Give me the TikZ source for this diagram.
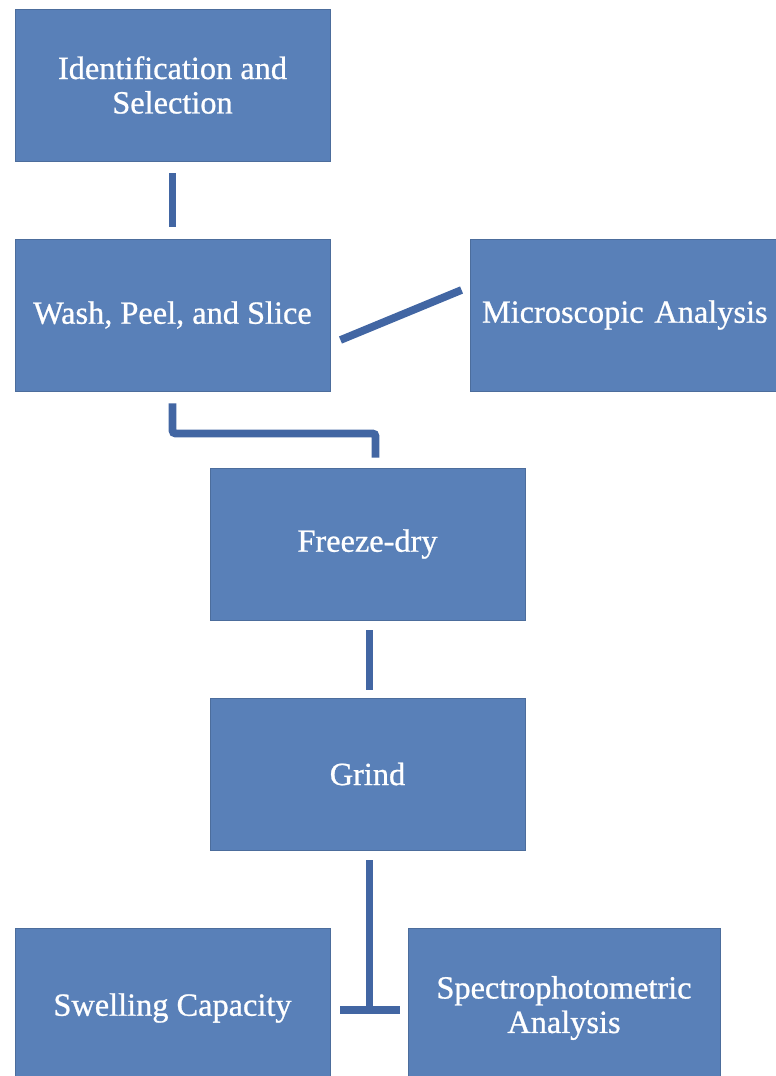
\documentclass[tikz,border=0pt]{standalone}
\usepackage{fontspec}
\setmainfont[FakeBold=0.8]{Liberation Serif}
\usetikzlibrary{calc}
\definecolor{boxblue}{RGB}{89,128,184}
\definecolor{lineblue}{RGB}{66,102,163}
\tikzset{
	box/.style={draw=boxblue!85!black, line width=0.6pt, fill=boxblue, text=white,
		minimum width=7.875cm, minimum height=3.8cm, align=center, inner sep=0pt,
		font=\fontsize{23}{24.5}\selectfont},
	link/.style={draw=lineblue, line width=5.5pt},
}

\begin{document}
\begin{tikzpicture}[x=0.025cm, y=-0.025cm]
		%%%%% START %%%%%
		\useasboundingbox (0, 0) rectangle (775, 1076);
		
		\node[box] (ident) at (172.5, 85) {Identification and\\Selection};
		\node[box] (wash) at (172.5, 315) {Wash, Peel, and Slice};
		\node[box, minimum width=8.2cm, text width=7.6cm, align=left] (micro) at (634, 315) {Microscopic Analysis};
		\node[box] (freeze) at (367.5, 544) {Freeze-dry};
		\node[box] (grind) at (367.5, 774) {Grind};
		\node[box, minimum height=4cm] (swell) at (172.5, 1008) {Swelling Capacity};
		\node[box, minimum width=7.8cm, minimum height=4cm] (spectro) at (564, 1008) {Spectrophotometric\\Analysis};
		
		\draw[link] ($(ident.south)+(0, 12)$) -- ($(wash.north)+(0, -12)$);
		\draw[link] ($(wash.east)+(10, 25)$) -- ($(micro.west)+(-8, -25)$);
		
		\draw[link, rounded corners=2pt] ($(wash.south)+(0, 12)$) -- ++(0, 30) -| ($(freeze.north)+(8, -10)$);
		\draw[link] ($(freeze.south)+(2, 10)$) -- ($(grind.north)+(2, -8)$);
		
		\coordinate (split) at ($(grind.south)+(2, 160)$);
		\draw[link] ($(grind.south)+(2, 10)$) -- (split);
		\draw[link] ($(swell.east)+(10, 2)$) -- ($(spectro.west)+(-8, 2)$);
		
		%%%%% END %%%%%
\end{tikzpicture}
\end{document}
